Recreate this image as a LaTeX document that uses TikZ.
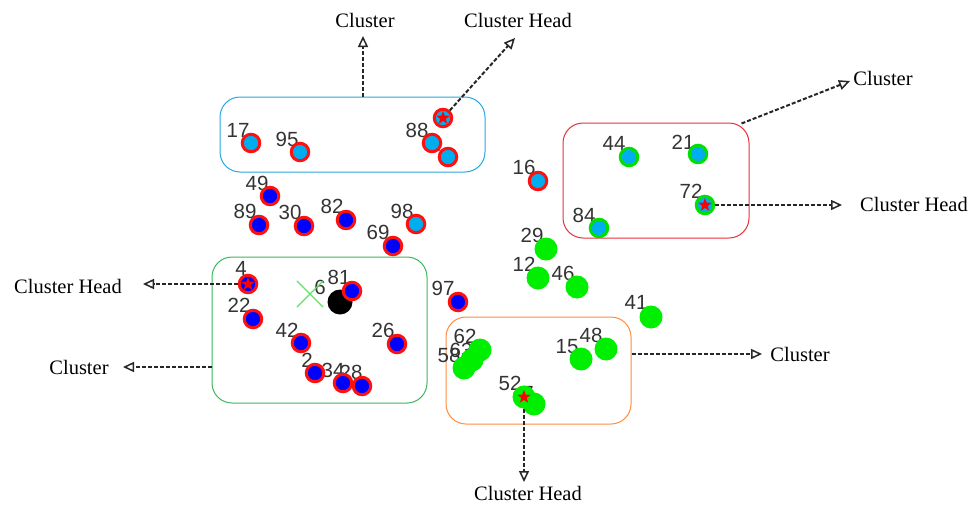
\documentclass[tikz,border=0pt]{standalone}
\usepackage{fontspec}
\setmainfont{Liberation Serif}
\newfontfamily\numfont{Liberation Sans}
\usetikzlibrary{arrows.meta,shapes.geometric,shapes.misc,calc}
\definecolor{ringred}{HTML}{FF1010}
\definecolor{ringgreen}{HTML}{00E000}
\definecolor{nodegreen}{HTML}{00EE00}
\definecolor{idgray}{HTML}{333333}
\definecolor{boxblue}{HTML}{29A8E0}
\definecolor{boxgreen}{HTML}{3CB85A}
\definecolor{boxred}{HTML}{E8303A}
\definecolor{boxorange}{HTML}{FF8C42}
\definecolor{xgreen}{HTML}{66E066}
\begin{document}
\begin{tikzpicture}[x=1pt,y=-1pt,
  sensor/.style={circle, inner sep=0pt, minimum size=17.5pt, line width=3pt},
  redblue/.style={sensor, draw=ringred, fill=blue},
  redcyan/.style={sensor, draw=ringred, fill=cyan},
  greencyan/.style={sensor, draw=ringgreen, fill=cyan},
  plaingreen/.style={circle, inner sep=0pt, minimum size=23pt, fill=nodegreen},
  sinknode/.style={circle, inner sep=0pt, minimum size=25pt, fill=black},
  headstar/.style={star, star points=5, star point ratio=2.4, minimum size=14pt, inner sep=0pt, fill=red},
  idtext/.style={font=\numfont\fontsize{20.5}{20.5}\selectfont, text=idgray, inner sep=0pt},
  captiontext/.style={font=\fontsize{20.5}{21}\selectfont, text=black, inner sep=0pt},
  regionbox/.style={rounded corners=20pt, line width=1pt, inner sep=0pt},
  pointer/.style={draw=black!85, line width=2pt, dash pattern=on 4pt off 2pt,
    -{Triangle[open,length=11pt,width=10pt,line width=1.5pt]}}]
\useasboundingbox (0,0) rectangle (976,506);
\fill[white] (0,0) rectangle (976,506);

% cluster regions
\node[regionbox, draw=boxblue,   minimum width=265pt, minimum height=75pt]  (B1) at (352.5,134.5) {};
\node[regionbox, draw=boxgreen,  minimum width=215pt, minimum height=146pt] (B2) at (319.5,330) {};
\node[regionbox, draw=boxred,    minimum width=186pt, minimum height=115pt] (B3) at (656,180.5) {};
\node[regionbox, draw=boxorange, minimum width=185pt, minimum height=107pt] (B4) at (538.5,370.5) {};

% node ids
\node[idtext] (l17) at (238,130) {17};
\node[idtext] (l95) at (287,139) {95};
\node[idtext] (l88) at (417,130) {88};
\node[idtext] (l3)  at (435,144) {2};
\node[idtext] (l49) at (257,183) {49};
\node[idtext] (l89) at (245,211) {89};
\node[idtext] (l30) at (290,212) {30};
\node[idtext] (l82) at (332,206) {82};
\node[idtext] (l98) at (402,211) {98};
\node[idtext] (l69) at (378,232) {69};
\node[idtext] (l97) at (443,288) {97};
\node[idtext] (l16) at (524,167) {16};
\node[idtext] (l4)  at (241,268) {4};
\node[idtext] (l22) at (239,305) {22};
\node[idtext] (l6)  at (320,287) {6};
\node[idtext] (l81) at (339,277) {81};
\node[idtext] (l42) at (287,330) {42};
\node[idtext] (l26) at (383,330) {26};
\node[idtext] (l2)  at (307,360) {2};
\node[idtext] (l34) at (333,370) {34};
\node[idtext] (l28) at (351,372) {28};
\node[idtext] (l44) at (614,143) {44};
\node[idtext] (l21) at (683,142) {21};
\node[idtext] (l72) at (691,191) {72};
\node[idtext] (l84) at (584,215) {84};
\node[idtext] (l29) at (532,235) {29};
\node[idtext] (l12) at (524,264) {12};
\node[idtext] (l46) at (563,273) {46};
\node[idtext] (l41) at (636,302) {41};
\node[idtext] (l62) at (465,336) {62};
\node[idtext] (l58) at (449,355) {58};
\node[idtext] (l63) at (461,350) {63};
\node[idtext] (l15) at (567,347) {15};
\node[idtext] (l48) at (591,335) {48};
\node[idtext] (l52) at (510,383) {52};
\node[idtext] (l7)  at (528,393) {7};

% sensor nodes
\node[redcyan] (n17) at (251,143) {};
\node[redcyan] (n95) at (300,152) {};
\node[redcyan] (n88) at (432,143) {};
\node[redcyan] (n3)  at (448,157) {};
\node[redcyan] (ch88) at (443,118) {};
\node[redblue] (n49) at (270,196) {};
\node[redblue] (n89) at (259,225) {};
\node[redblue] (n30) at (304,226) {};
\node[redblue] (n82) at (346,220) {};
\node[redcyan] (n98) at (416,224) {};
\node[redblue] (n69) at (393,246) {};
\node[redblue] (n97) at (458,302) {};
\node[redcyan] (n16) at (538,181) {};

\node[redblue] (n4)  at (248,284) {};
\node[redblue] (n22) at (253,319) {};
\node[cross out, draw=xgreen, line width=1.2pt, minimum size=25pt, inner sep=0pt] (cx) at (310,294) {};
\node[sinknode] (bs) at (340,302) {};
\node[redblue] (n81) at (352,291) {};
\node[redblue] (n42) at (301,343) {};
\node[redblue] (n26) at (397,344) {};
\node[redblue] (n2)  at (315,373) {};
\node[redblue] (n34) at (343,383) {};
\node[redblue] (n28) at (362,386) {};

\node[greencyan] (n44) at (629,157) {};
\node[greencyan] (n21) at (698,154) {};
\node[greencyan] (n72) at (705,205) {};
\node[greencyan] (n84) at (599,228) {};
\node[plaingreen] (n29) at (546,249) {};
\node[plaingreen] (n12) at (538,278) {};
\node[plaingreen] (n46) at (577,287) {};
\node[plaingreen] (n41) at (651,317) {};

\node[plaingreen] (n62) at (480,350) {};
\node[plaingreen] (n63) at (472,360) {};
\node[plaingreen] (n58) at (464,368) {};
\node[plaingreen] (n15) at (581,359) {};
\node[plaingreen] (n48) at (606,349) {};
\node[plaingreen] (n7)  at (534,404) {};
\node[plaingreen] (n52) at (524,397) {};

% cluster head marks
\node[headstar] (s88) at (ch88.center) {};
\node[headstar] (s4)  at (n4.center) {};
\node[headstar] (s72) at (n72.center) {};
\node[headstar] (s52) at (n52.center) {};

% caption anchors
\coordinate (c1) at (363,36);
\coordinate (c2) at (515,38);
\coordinate (c3) at (143,284);
\coordinate (c4) at (123,367);
\coordinate (c5) at (850,81);
\coordinate (c6) at (842,205);
\coordinate (c7) at (762,354);
\coordinate (c8) at (524,482);

% pointers
\draw[pointer] (B1.north -| c1) -- (c1);
\draw[pointer] (ch88) -- (c2);
\draw[pointer] (n4) -- (c3);
\draw[pointer] (B2.west |- c4) -- (c4);
\draw[pointer] ($(B3.north east)+(-8,1)$) -- (c5);
\draw[pointer] (n72) -- (c6);
\draw[pointer] (B4.east |- c7) -- (c7);
\draw[pointer] (n52) -- (c8);

% captions
\node[captiontext] (t1) at (365,20) {Cluster};
\node[captiontext] (t2) at (518,20) {Cluster Head};
\node[captiontext] (t3) at (68,286) {Cluster Head};
\node[captiontext] (t4) at (79,367) {Cluster};
\node[captiontext] (t5) at (883,78) {Cluster};
\node[captiontext] (t6) at (914,204) {Cluster Head};
\node[captiontext] (t7) at (800,354) {Cluster};
\node[captiontext] (t8) at (528,493) {Cluster Head};
\end{tikzpicture}
\end{document}
